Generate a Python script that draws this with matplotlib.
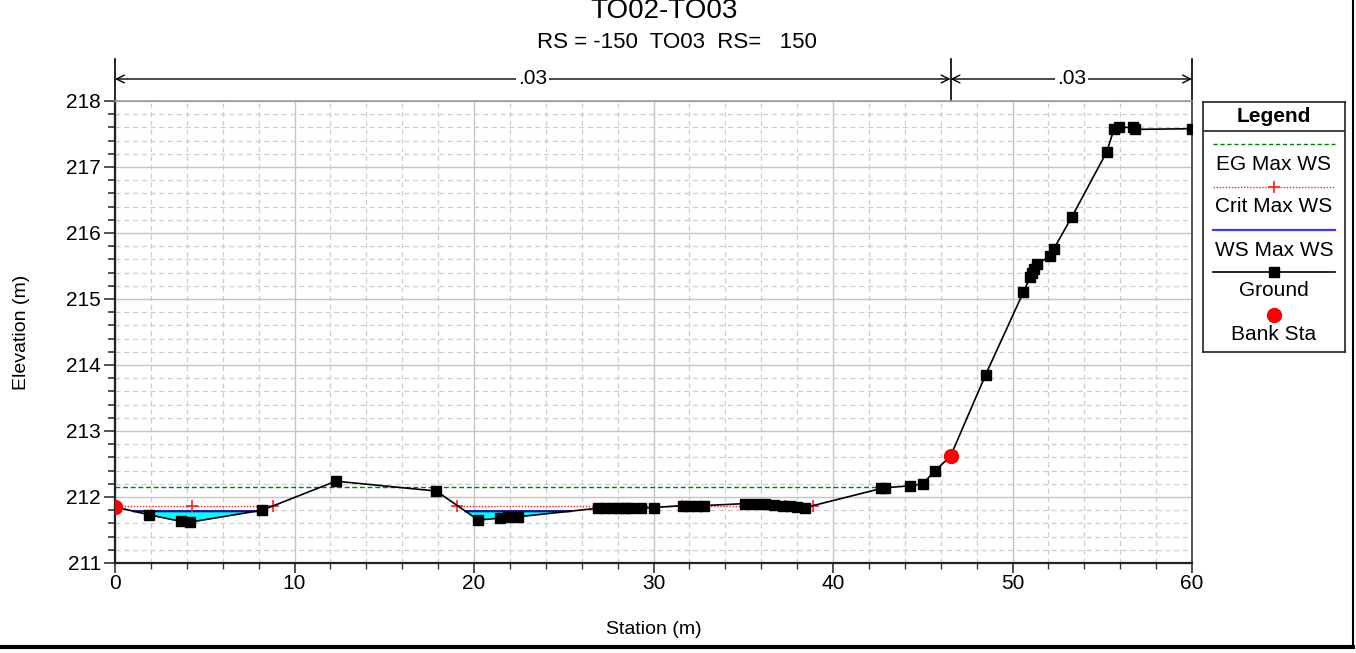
import numpy as np
import matplotlib
matplotlib.use("Agg")
import matplotlib.pyplot as plt
from matplotlib.lines import Line2D
import matplotlib.transforms as mtransforms

plt.rcParams['font.family'] = ['Liberation Sans', 'DejaVu Sans']

# ---------------- data ----------------
title = "TO02-TO03"
subtitle = "RS = -150  TO03  RS=   150"

ground_sta = [0.0, 1.9, 3.68, 4.2, 8.2, 12.3, 17.9, 20.24, 21.45, 21.9, 22.46,
              26.9, 27.3, 27.7, 28.1, 28.4, 28.7, 29.3, 30.0, 31.65, 32.0, 32.4, 32.8,
              35.1, 35.65, 36.2, 36.7, 37.2, 37.6, 38.0, 38.45,
              42.7, 42.9, 44.3, 45.0, 45.7, 46.55, 48.5, 50.6, 51.0, 51.07, 51.2,
              51.35, 52.1, 52.3, 53.3, 55.25, 55.65, 55.95, 56.7, 56.85, 60.0]
ground_elev = [211.85, 211.73, 211.63, 211.62, 211.80, 212.24, 212.09, 211.65, 211.68, 211.69, 211.70,
               211.83, 211.83, 211.83, 211.83, 211.83, 211.83, 211.83, 211.84, 211.87, 211.87, 211.87, 211.87,
               211.90, 211.90, 211.89, 211.88, 211.87, 211.86, 211.85, 211.84,
               212.13, 212.14, 212.17, 212.20, 212.40, 212.62, 213.85, 215.10, 215.34, 215.40, 215.46,
               215.53, 215.65, 215.76, 216.24, 217.23, 217.57, 217.60, 217.60, 217.57, 217.58]

bank_sta = [0.0, 46.55]
bank_elev = [211.85, 212.62]

eg_sta = [0.0, 43.0]
eg_elev = [212.15, 212.15]

crit_sta = [0.0, 4.27, 8.82, np.nan, 19.03, 31.6, 37.3, 38.86]
crit_elev = [211.87, 211.87, 211.87, np.nan, 211.87, 211.87, 211.87, 211.87]

ws_elev = 211.785

n_breaks = [0.0, 46.55, 60.0]
n_values = [".03", ".03"]

legend_labels = ["EG Max WS", "Crit Max WS", "WS Max WS", "Ground", "Bank Sta"]

# ---------------- figure ----------------
W, H = 1356, 653
fig = plt.figure(figsize=(W / 100, H / 100), dpi=100)

def fx(px):
    return px / W

def fy(py):
    return 1 - py / H

ax = fig.add_axes([fx(115), fy(563), fx(1192) - fx(115), fy(101) - fy(563)])
ax.set_xlim(0, 60)
ax.set_ylim(211, 218)

# grid
ax.set_xticks(np.arange(0, 61, 10))
ax.set_xticks(np.arange(0, 61, 2), minor=True)
ax.set_yticks(np.arange(211, 218.01, 1))
ax.set_yticks(np.arange(211, 218.01, 0.2), minor=True)
ax.grid(which='major', color='#c4c4c4', lw=1.0, ls='-', zorder=0)
ax.grid(which='minor', color='#cdcdcd', lw=0.9, ls=(0, (4, 3)), zorder=0)
ax.set_axisbelow(True)

ax.tick_params(axis='both', which='major', labelsize=15, direction='out', color='#333333')
ax.tick_params(axis='y', which='major', length=8, width=1.2, pad=2)
ax.tick_params(axis='y', which='minor', length=5, width=1.2, color='#333333')
ax.tick_params(axis='x', which='major', length=7, width=1.2, pad=1)
ax.tick_params(axis='x', which='minor', length=4, width=1.0, color='#333333')
ax.set_xticklabels([str(int(v)) for v in np.arange(0, 61, 10)])
ax.set_yticklabels([str(int(v)) for v in np.arange(211, 218.01, 1)])

for s in ['left', 'bottom']:
    ax.spines[s].set_color('#222222')
    ax.spines[s].set_linewidth(1.6)
ax.spines['right'].set_color('#444444')
ax.spines['right'].set_linewidth(1.3)
ax.spines['top'].set_color('#9a9a9a')
ax.spines['top'].set_linewidth(1.2)

ax.set_xlabel("Station (m)", fontsize=14, labelpad=20)
ax.set_ylabel("Elevation (m)", fontsize=14, labelpad=26)

# water fill
gx = np.linspace(0, 60, 6001)
gz = np.interp(gx, ground_sta, ground_elev)
wet = gz < ws_elev
ax.fill_between(gx, gz, ws_elev, where=wet, interpolate=True, color='#00ffff', lw=0, zorder=2)
ws_line = np.where(wet, ws_elev, np.nan)
ax.plot(gx, ws_line, color='#1010a0', lw=1.6, zorder=3)

# EG
ax.plot(eg_sta, eg_elev, color='#008000', lw=1.0, ls=(0, (3.5, 2)), zorder=3)
# Crit
ax.plot(crit_sta, crit_elev, color='#ff2020', lw=1.0, ls=(0, (1, 1.2)), zorder=3)
ax.plot(crit_sta, crit_elev, color='#ff2020', lw=0, marker='+', ms=9, mew=1.2, zorder=4)
# Ground
ax.plot(ground_sta, ground_elev, color='black', lw=1.2, marker='s', ms=6.5, zorder=5)
# Bank
ax.plot(bank_sta, bank_elev, lw=0, marker='o', ms=10, color='#ff0000', zorder=6)

# Manning's n annotations
trans = mtransforms.blended_transform_factory(ax.transData, ax.transAxes)
y_arrow = (563 - 79) / (563 - 101)
y_top = (563 - 59) / (563 - 101)
for xb in n_breaks:
    ax.plot([xb, xb], [1.0, y_top], transform=trans, color='black', lw=1.2, clip_on=False)
for i, nv in enumerate(n_values):
    a, b = n_breaks[i], n_breaks[i + 1]
    ax.annotate('', xy=(b, y_arrow), xytext=(a, y_arrow), xycoords=trans, textcoords=trans,
                arrowprops=dict(arrowstyle='<->', lw=1.0, color='black', shrinkA=0, shrinkB=0,
                                mutation_scale=14))
    ax.text((a + b) / 2, y_arrow, nv, transform=trans, ha='center', va='center', fontsize=15,
            bbox=dict(facecolor='white', edgecolor='none', pad=1.5), clip_on=False)

# titles
fig.text(fx(664), fy(11), title, ha='center', va='center', fontsize=20)
fig.text(fx(677), fy(43), subtitle, ha='center', va='center', fontsize=16)

# legend (drawn manually in its own axes)
lx0, ly0, lx1, ly1 = 1203, 102, 1345, 352
lax = fig.add_axes([fx(lx0), fy(ly1), fx(lx1) - fx(lx0), fy(ly0) - fy(ly1)])
lax.set_xlim(0, lx1 - lx0)
lax.set_ylim(ly1 - ly0, 0)
lax.set_xticks([])
lax.set_yticks([])
for s in lax.spines.values():
    s.set_color('#222222')
    s.set_linewidth(1.2)
lax.axhline(29, color='#222222', lw=1.2)
lax.text(71, 14, "Legend", ha='center', va='center', fontsize=15, fontweight='bold')
lxa, lxb = 10, 132
lax.plot([lxa, lxb], [42, 42], color='#008000', lw=1.0, ls=(0, (3, 2)))
lax.text(71, 62, legend_labels[0], ha='center', va='center', fontsize=15)
lax.plot([lxa, lxb], [85, 85], color='#ff2020', lw=1.0, ls=(0, (1, 1.2)))
lax.plot([71], [85], color='#ff2020', marker='+', ms=9, mew=1.2)
lax.text(71, 105, legend_labels[1], ha='center', va='center', fontsize=15)
lax.plot([lxa, lxb], [128, 128], color='#3a3aff', lw=1.6)
lax.text(71, 148, legend_labels[2], ha='center', va='center', fontsize=15)
lax.plot([lxa, lxb], [170, 170], color='black', lw=1.2)
lax.plot([71], [170], color='black', marker='s', ms=6.5)
lax.text(71, 189, legend_labels[3], ha='center', va='center', fontsize=15)
lax.plot([71], [213], color='#ff0000', marker='o', ms=10)
lax.text(71, 232, legend_labels[4], ha='center', va='center', fontsize=15)

# figure border lines (right and bottom)
fig.add_artist(Line2D([0, fx(1353)], [fy(647), fy(647)], color='black', lw=3))
fig.add_artist(Line2D([fx(1353), fx(1353)], [fy(647), 1], color='black', lw=1.5))

fig.savefig("out.png", dpi=100)
